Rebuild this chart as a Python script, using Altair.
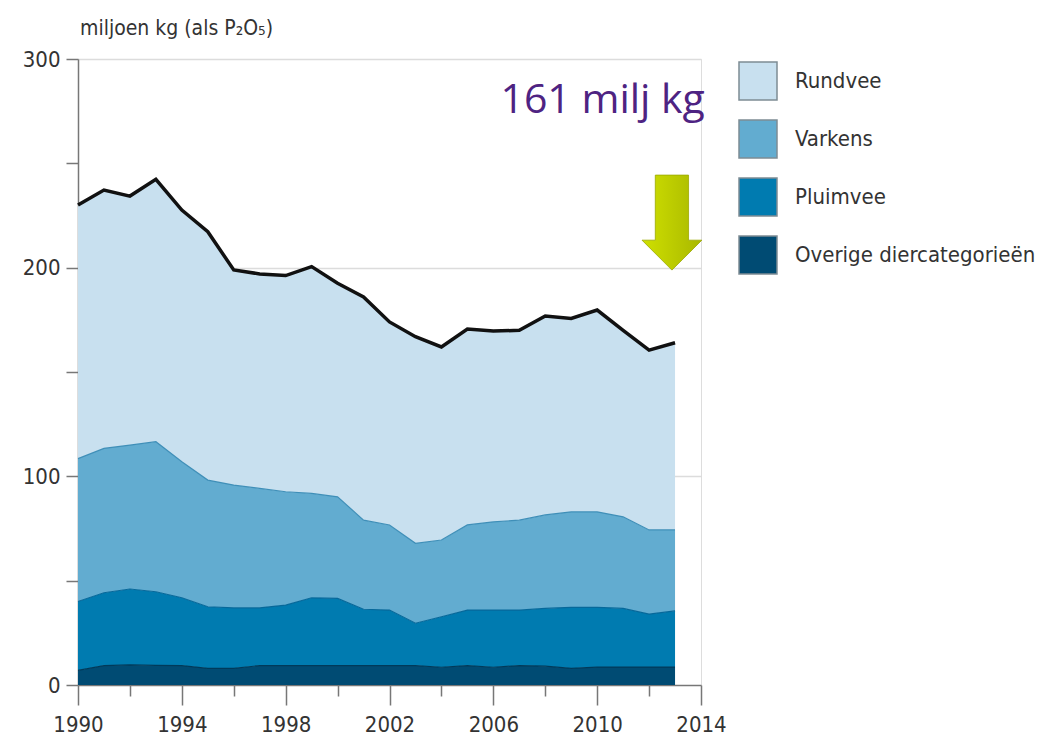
import altair as alt
import pandas as pd

# ---- data ----
years = list(range(1990, 2014))
overige = [7.0, 9.3, 9.6, 9.4, 9.3, 8.0, 8.0, 9.3, 9.3, 9.3, 9.3, 9.3,
           9.3, 9.3, 8.5, 9.3, 8.5, 9.3, 9.0, 8.0, 8.6, 8.6, 8.6, 8.6]
pluimvee = [33.0, 34.9, 36.4, 35.3, 32.5, 29.5, 29.0, 27.7, 29.0, 32.5, 32.2, 27.0,
            26.6, 20.3, 24.2, 26.6, 27.4, 26.6, 27.7, 29.2, 28.6, 28.1, 25.4, 26.9]
varkens = [68.5, 69.2, 69.0, 71.9, 65.2, 60.7, 58.8, 57.2, 54.3, 50.0, 48.7, 42.7,
           40.8, 38.3, 36.8, 40.8, 42.3, 43.1, 44.8, 45.8, 45.8, 43.9, 40.3, 38.8]
rundvee = [121.5, 123.8, 119.3, 125.7, 120.6, 119.0, 103.1, 102.8, 103.6, 108.7, 102.3, 107.0,
           97.3, 99.0, 92.5, 93.9, 91.4, 91.0, 95.3, 92.7, 96.7, 89.4, 86.2, 89.7]

categories = ["Rundvee", "Varkens", "Pluimvee", "Overige diercategorieën"]
fill_colors = ["#c8e0ef", "#62acd0", "#007bb0", "#004b73"]
edge_colors = ["#111111", "#3f8fb8", "#06689a", "#003a5a"]
edge_widths = [3.5, 1.2, 1.2, 1.2]

x_tick_years = list(range(1990, 2015, 2))
y_tick_values = [0, 50, 100, 150, 200, 250, 300]

title_text = ["miljoen kg (als P₂O₅)"]
title_pos = [(1990, 311.5)]
note_text = ["161 milj kg"]
note_pos = [(2014.15, 280)]
arrow_pos = [(2012.88, 221.6)]

FONT = "Liberation Sans Narrow, DejaVu Sans Condensed, sans-serif"

# ---- build stacked table ----
series = {
    "Overige diercategorieën": overige,
    "Pluimvee": pluimvee,
    "Varkens": varkens,
    "Rundvee": rundvee,
}
rows = []
for i, yr in enumerate(years):
    base = 0.0
    for cat in ["Overige diercategorieën", "Pluimvee", "Varkens", "Rundvee"]:
        top = base + series[cat][i]
        rows.append({"year": yr, "cat": cat, "y0": base, "y1": top})
        base = top
df = pd.DataFrame(rows)

xscale = alt.Scale(domain=[1990, 2014], nice=False, zero=False)
yscale = alt.Scale(domain=[0, 300], nice=False)

x_axis = alt.Axis(
    values=x_tick_years, format="d", title=None,
    labelExpr="datum.value % 4 == 2 ? datum.label : ''",
    tickSize={"condition": {"test": "datum.value % 4 == 2", "value": 20}, "value": 11},
    tickColor="#777", domainColor="#777", tickWidth=1.5, domainWidth=1.5,
    labelFont=FONT, labelFontSize=22, labelColor="#333", labelPadding=9,
    grid=False, labelFlush=False,
)
y_axis = alt.Axis(
    values=y_tick_values, title=None,
    labelExpr="datum.value % 100 == 0 ? datum.label : ''",
    tickSize=12, tickColor="#777", domainColor="#777", tickWidth=1.5, domainWidth=1.5,
    labelFont=FONT, labelFontSize=22, labelColor="#333", labelPadding=6,
    grid=True, gridColor="#dcdcdc", gridWidth=1.5,
    gridOpacity={"condition": {"test": "datum.value % 100 == 0 && datum.value > 0", "value": 1}, "value": 0},
)

areas = alt.Chart(df).mark_area(interpolate="linear").encode(
    x=alt.X("year:Q", scale=xscale, axis=x_axis),
    y=alt.Y("y1:Q", scale=yscale, axis=y_axis, stack=None),
    y2="y0:Q",
    color=alt.Color(
        "cat:N",
        scale=alt.Scale(domain=categories, range=fill_colors),
        legend=alt.Legend(
            orient="none", legendX=660, legendY=2, title=None,
            symbolType="square", symbolSize=1444, symbolStrokeColor="#7d8c94",
            symbolStrokeWidth=1.5, symbolOpacity=1,
            labelFont=FONT, labelFontSize=22, labelColor="#333", labelLimit=0,
            labelOffset=17, rowPadding=14, padding=0,
        ),
    ),
)

edge_layers = []
for cat, col, w in zip(categories, edge_colors, edge_widths):
    edge_layers.append(
        alt.Chart(df).transform_filter(alt.datum.cat == cat).mark_line(
            interpolate="linear", color=col, strokeWidth=w
        ).encode(
            x=alt.X("year:Q", scale=xscale),
            y=alt.Y("y1:Q", scale=yscale, stack=None),
        )
    )

title_df = pd.DataFrame({"x": [p[0] for p in title_pos], "y": [p[1] for p in title_pos], "t": title_text})
title_mark = alt.Chart(title_df).mark_text(
    align="left", baseline="alphabetic", font=FONT, fontSize=21, color="#333", dx=2
).encode(x=alt.X("x:Q", scale=xscale), y=alt.Y("y:Q", scale=yscale), text="t:N")

note_df = pd.DataFrame({"x": [p[0] for p in note_pos], "y": [p[1] for p in note_pos], "t": note_text})
note_mark = alt.Chart(note_df).mark_text(
    align="right", baseline="middle", font="Open Sans", fontSize=41, color="#4e2382"
).encode(x=alt.X("x:Q", scale=xscale), y=alt.Y("y:Q", scale=yscale), text="t:N")

arrow_df = pd.DataFrame({"x": [p[0] for p in arrow_pos], "y": [p[1] for p in arrow_pos]})
arrow_path = "M -0.35 -1 L 0.35 -1 L 0.35 0.37 L 0.63 0.37 L 0 1 L -0.63 0.37 L -0.35 0.37 Z"
arrow_mark = alt.Chart(arrow_df).mark_point(
    shape=arrow_path, size=9025, filled=True, opacity=1,
    fill=alt.Gradient(
        gradient="linear", x1=0, x2=1, y1=0, y2=0,
        stops=[alt.GradientStop(color="#cfe000", offset=0),
               alt.GradientStop(color="#a9b800", offset=1)],
    ),
    stroke="#9aa800", strokeWidth=0.8,
).encode(x=alt.X("x:Q", scale=xscale), y=alt.Y("y:Q", scale=yscale))

chart = alt.layer(areas, *edge_layers, title_mark, note_mark, arrow_mark).properties(
    width=623, height=626,
    autosize=alt.AutoSizeParams(type="none"),
    padding={"left": 70, "top": 51, "right": 341, "bottom": 55},
).configure_view(stroke=None).configure(background="white")

chart.save("out.html", embed_options={"renderer": "svg", "actions": False})
